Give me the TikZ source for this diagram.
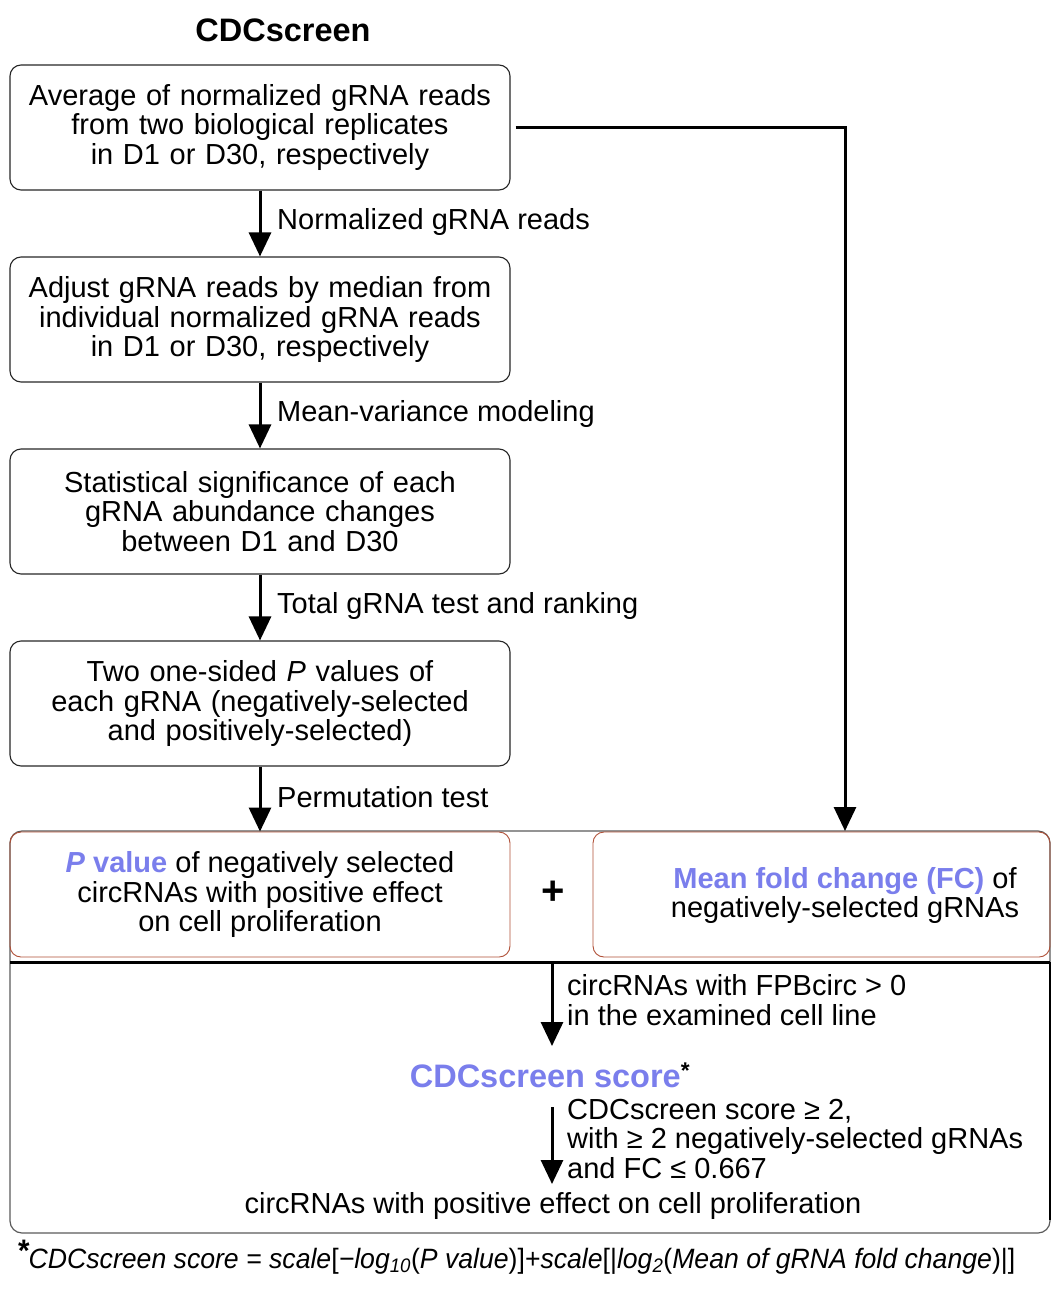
\documentclass[tikz,border=0pt]{standalone}
\usepackage{fontspec}
\setmainfont{Liberation Sans}
\usetikzlibrary{arrows.meta,calc}
\definecolor{hlblue}{RGB}{122,126,236}
\definecolor{boxred}{RGB}{175,80,55}
\definecolor{outgray}{RGB}{90,90,90}
\tikzset{
  stepbox/.style={draw=black!85, line width=1.1pt, rounded corners=11pt,
    minimum width=500pt, minimum height=125pt, text width=490pt, align=center,
    font=\fontsize{29}{29.5}\selectfont, inner sep=0pt},
  redbox/.style={draw=boxred, line width=0.9pt, rounded corners=11pt,
    minimum height=125pt, inner sep=0pt},
  arr/.style={line width=3pt, -{Triangle[width=22pt,length=24pt]}},
  lbl/.style={anchor=west, align=left, inner sep=0pt,
    font=\fontsize{29}{29.5}\selectfont},
  txt/.style={align=center, inner sep=0pt, font=\fontsize{29}{29.5}\selectfont},
}
\begin{document}
\begin{tikzpicture}[x=1pt,y=-1pt]
\useasboundingbox (0,0) rectangle (1060,1290);
\node[inner sep=0pt, font=\fontsize{32.5}{34}\selectfont\bfseries] (title) at (283,30) {CDCscreen};

\node[stepbox] (b1) at (260,127.5) {Average of normalized gRNA reads\\from two biological replicates\\in D1 or D30, respectively};
\node[stepbox] (b2) at (260,319.5) {Adjust gRNA reads by median from\\individual normalized gRNA reads\\in D1 or D30, respectively};
\node[stepbox] (b3) at (260,511.5) {Statistical significance of each\\gRNA abundance changes\\between D1 and D30};
\node[stepbox] (b4) at (260,703.5) {Two one-sided \textit{P} values of\\each gRNA (negatively-selected\\and positively-selected)};

% outer box
\node[draw=outgray, line width=1.2pt, rounded corners=12pt, minimum width=1040pt,
  minimum height=402pt, inner sep=0pt] (outer) at (530,1032) {};
\draw[line width=3pt] (10,962) coordinate (hl) -- (1050,962) coordinate (hr);
\draw[line width=2.6pt] (hr) -- (1050,1220);

\node[redbox, minimum width=500pt] (pv) at (260,894.5) {};
\node[txt] (pvt) at (260,894.5) {{\color{hlblue}\bfseries\textit{P} value} of negatively selected\\circRNAs with positive effect\\on cell proliferation};
\node[redbox, minimum width=457pt] (fc) at (821.5,894.5) {};
\node[txt] (fct) at (845,895.5) {{\color{hlblue}\bfseries Mean fold change (FC)} of\\negatively-selected gRNAs};
\node[inner sep=0pt, font=\fontsize{40}{40}\selectfont\bfseries] (plus) at (553,893) {+};

% left chain arrows
\draw[arr] (b1.south) -- (b2.north);
\draw[arr] (b2.south) -- (b3.north);
\draw[arr] (b3.south) -- (b4.north);
\draw[arr] (b4.south) -- (pv.north);
\node[lbl] (l1) at (277,222) {Normalized gRNA reads};
\node[lbl] (l2) at (277,414) {Mean-variance modeling};
\node[lbl] (l3) at (277,606) {Total gRNA test and ranking};
\node[lbl] (l4) at (277,797) {Permutation test};

% right connector
\coordinate (rt) at (845,831);
\draw[arr] ([xshift=5pt]b1.east) -| (rt);

% bottom part
\coordinate (a1s) at (552,962);
\coordinate (a1e) at (552,1046);
\coordinate (a2s) at (552,1107);
\coordinate (a2e) at (552,1184);
\node[inner sep=0pt, font=\fontsize{32.5}{34}\selectfont\bfseries, text=hlblue] (score) at (550,1075) {CDCscreen score\textcolor{black}{\textsuperscript{*}}};
\draw[arr] (a1s) -- (a1e);
\node[lbl] (l5) at (567,1000) {circRNAs with FPBcirc > 0\\in the examined cell line};
\node[txt] (final) at (553,1206) {circRNAs with positive effect on cell proliferation};
\draw[arr] (a2s) -- (a2e);
\node[lbl] (l6) at (567,1139) {CDCscreen score ≥ 2,\\with ≥ 2 negatively-selected gRNAs\\and FC ≤ 0.667};

% footnote
\node[anchor=base west, inner sep=0pt] (foot) at (18,1268) {\resizebox{997pt}{!}{\scalebox{1}[1.05]{\fontsize{27}{29}\selectfont\raisebox{6pt}{\fontsize{30}{30}\selectfont\bfseries *}\kern-1pt\textit{CDCscreen score = scale}[\textit{−log\textsubscript{10}}(\textit{P value})]+\textit{scale}[|\textit{log\textsubscript{2}}(\textit{Mean of gRNA fold change})|]}}};
\end{tikzpicture}
\end{document}
